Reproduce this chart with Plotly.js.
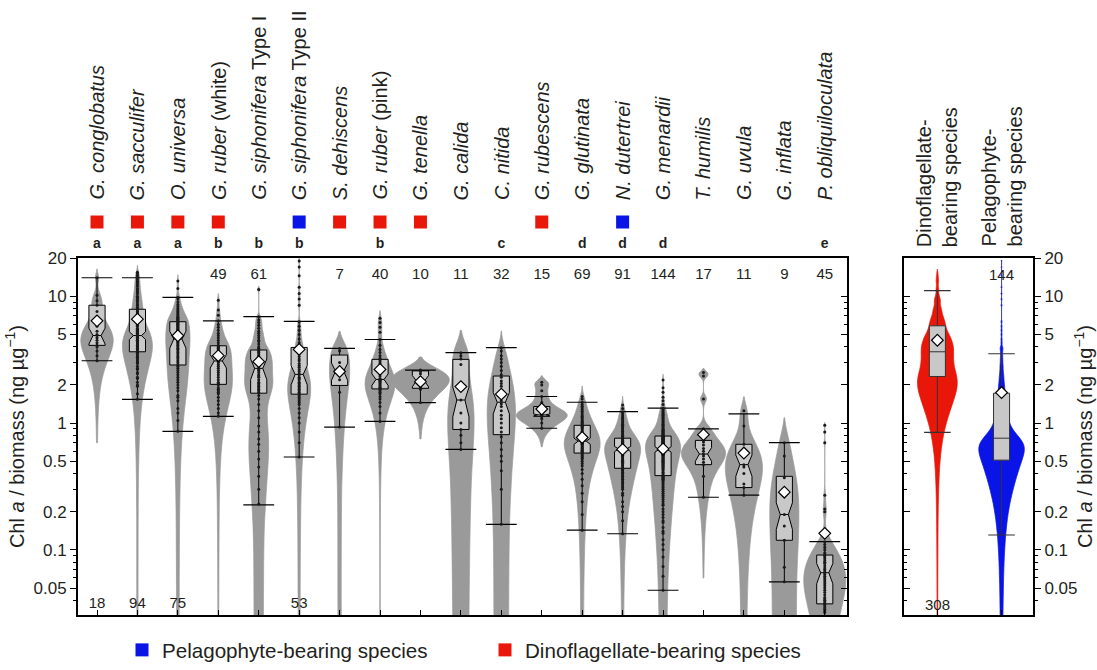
<!DOCTYPE html>
<html><head><meta charset="utf-8">
<script src="https://cdn.plot.ly/plotly-3.0.1.min.js"></script>
<style>html,body{margin:0;padding:0;background:#fff}#chart{width:1097px;height:670px}</style>
</head><body><div id="chart"></div>
<script>
// ---------------- DATA ----------------
const categories = ['<i>G. conglobatus</i>','<i>G. sacculifer</i>','<i>O. universa</i>','<i>G. ruber</i> (white)',
  '<i>G. siphonifera</i> Type I','<i>G. siphonifera</i> Type II','<i>S. dehiscens</i>','<i>G. ruber</i> (pink)',
  '<i>G. tenella</i>','<i>G. calida</i>','<i>C. nitida</i>','<i>G. rubescens</i>','<i>G. glutinata</i>',
  '<i>N. dutertrei</i>','<i>G. menardii</i>','<i>T. humilis</i>','<i>G. uvula</i>','<i>G. inflata</i>','<i>P. obliquiloculata</i>'];
const symbiont = ['D','D','D','D','','P','D','D','D','','','D','','P','','','','',''];
const groupLetters = ['a','a','a','b','b','b','','b','','','c','','d','d','d','','','','e'];
const nCounts = [18,94,75,49,61,53,7,40,10,11,32,15,69,91,144,17,11,9,45];

const q1 =           [4.1, 3.65, 2.87, 2.02, 1.72, 1.69, 1.98, 1.86, 1.88, 0.89, 0.81, 1.13, 0.58, 0.44, 0.385, 0.47, 0.31, 0.119, 0.0375];
const median =       [4.9, 4.9, 4.6, 3.09, 2.7, 2.42, 2.57, 2.21, 2.15, 1.52, 1.46, 1.16, 0.72, 0.625, 0.62, 0.57, 0.47, 0.19, 0.066];
const q3 =           [8.5, 7.9, 6.3, 4.07, 3.77, 3.95, 3.44, 3.18, 2.58, 3.18, 2.35, 1.35, 0.96, 0.76, 0.79, 0.73, 0.68, 0.38, 0.091];
const lowerWhisker = [3.1, 1.54, 0.86, 1.13, 0.226, 0.54, 0.93, 1.03, 1.45, 0.62, 0.159, 0.91, 0.143, 0.134, 0.048, 0.26, 0.27, 0.056, 0.03];
const upperWhisker = [14.0, 14.0, 9.8, 6.4, 6.9, 6.35, 3.88, 4.56, 2.62, 3.59, 3.93, 1.62, 1.46, 1.23, 1.31, 0.9, 1.18, 0.7, 0.116];
const means =        [6.4, 6.6, 4.88, 3.4, 3.05, 3.81, 2.55, 2.65, 2.12, 1.94, 1.69, 1.29, 0.77, 0.62, 0.625, 0.81, 0.58, 0.285, 0.135];
const notchHalf =    [0.7, 0.35, 0.7, 0.37, 0.5, 0.42, 0.4, 0.23, 0.22, 0.4, 0.28, 0.02, 0.04, 0.03, 0.03, 0.07, 0.09, 0.045, 0.012];

const conglobatus = [3.1,3.4,3.7,4.0,4.1,4.3,4.5,4.7,4.9,5.0,5.3,5.8,6.6,7.6,8.5,9.2,10.2,14.0];
const sacculifer = [1.54,1.7,1.95,2.0,2.1,2.25,2.3,2.45,2.5,2.65,2.7,2.8,2.95,3.0,3.05,3.15,3.2,3.3,3.3,3.4,3.45,3.55,3.6,
  3.65,3.7,3.7,3.8,3.85,3.9,4.0,4.0,4.05,4.1,4.2,4.2,4.3,4.35,4.4,4.5,4.5,4.6,4.65,4.7,4.75,4.8,4.85,4.9,
  4.9,5.0,5.1,5.2,5.3,5.4,5.5,5.6,5.8,5.9,6.0,6.2,6.3,6.5,6.6,6.8,7.0,7.1,7.3,7.5,7.6,7.8,7.9,8.0,
  8.2,8.5,8.7,9.0,9.2,9.3,9.6,9.8,10.0,10.4,10.7,11.0,11.2,11.5,12.0,12.4,12.8,13.1,13.5,14.0,14.5,15.0,15.5];
const universa = [0.86,1.05,1.2,1.3,1.5,1.6,1.65,1.8,1.9,2.0,2.1,2.2,2.3,2.4,2.5,2.6,2.7,2.8,
  2.9,3.0,3.1,3.2,3.3,3.4,3.5,3.6,3.7,3.8,3.9,4.0,4.1,4.2,4.3,4.35,4.45,4.5,4.55,
  4.6,4.7,4.8,4.9,5.0,5.1,5.2,5.3,5.4,5.5,5.6,5.7,5.8,5.9,6.0,6.05,6.1,6.2,6.3,
  6.4,6.5,6.6,6.7,6.8,6.9,7.0,7.2,7.4,7.6,7.8,8.0,8.3,8.6,9.0,9.5,9.8,11.5,13.2];
const ruberWhite = [1.13,1.2,1.3,1.4,1.5,1.6,1.7,1.75,1.8,1.85,1.9,2.0,2.05,2.1,2.2,2.3,2.4,2.5,2.6,2.7,2.8,2.9,3.0,3.05,
  3.1,3.2,3.3,3.4,3.5,3.6,3.7,3.8,3.9,3.95,4.0,4.05,4.1,4.3,4.5,4.7,4.9,5.1,5.4,5.7,6.0,6.4,7.1,7.8,9.3];
const siphoniferaI = [0.23,0.3,0.38,0.45,0.52,0.6,0.68,0.75,0.85,0.95,1.1,1.25,1.4,1.55,1.65,1.75,1.8,1.85,1.9,1.95,2.0,
  2.05,2.1,2.2,2.3,2.35,2.4,2.5,2.6,2.65,2.7,2.8,2.85,2.9,3.0,3.05,3.1,3.2,3.3,3.35,3.4,3.5,3.6,3.65,3.75,
  3.8,3.9,4.0,4.2,4.4,4.5,4.7,4.9,5.1,5.3,5.6,5.9,6.2,6.5,6.9,11.3];
const siphoniferaII = [0.54,0.7,0.85,1.0,1.1,1.2,1.3,1.4,1.45,1.5,1.55,1.6,1.65,1.7,1.75,1.8,1.85,1.9,1.95,2.0,2.05,2.1,
  2.2,2.25,2.3,2.4,2.45,2.55,2.65,2.75,2.85,2.95,3.1,3.2,3.35,3.5,3.65,3.8,3.9,4.0,4.3,4.6,5.0,5.4,5.8,6.3,
  8.5,9.5,10.5,11.8,14.5,17.0,19.0];
const dehiscens = [0.93,1.75,2.2,2.55,3.0,3.7,3.88];
const ruberPink = [1.03,1.2,1.35,1.45,1.55,1.62,1.7,1.75,1.8,1.84,1.88,1.92,1.96,2.0,2.04,2.08,2.12,2.15,2.18,2.2,
  2.25,2.35,2.45,2.55,2.65,2.75,2.85,2.95,3.05,3.15,3.25,3.4,3.6,3.8,4.1,4.56,5.2,5.7,6.2,6.7];
const tenella = [1.45,1.85,1.9,2.0,2.1,2.2,2.3,2.45,2.55,2.62];
const calida = [0.62,0.7,0.8,0.89,1.0,1.2,1.52,2.9,3.2,3.4,3.59];
const nitida = [0.159,0.3,0.42,0.5,0.55,0.62,0.7,0.78,0.85,0.92,1.0,1.08,1.15,1.25,1.35,1.42,1.5,1.6,1.7,1.8,1.95,2.05,
  2.15,2.3,2.4,2.6,2.8,3.0,3.2,3.4,3.7,3.93];
const rubescens = [0.91,1.0,1.08,1.12,1.14,1.15,1.16,1.2,1.25,1.35,1.45,1.62,1.8,2.0,2.1];
const glutinata = [0.143,0.19,0.24,0.28,0.32,0.36,0.4,0.43,0.46,0.48,0.5,0.52,0.53,0.54,0.55,0.56,0.57,
  0.585,0.59,0.6,0.61,0.62,0.63,0.64,0.65,0.66,0.67,0.68,0.69,0.695,0.7,0.705,0.71,0.715,
  0.72,0.73,0.74,0.75,0.76,0.77,0.78,0.8,0.82,0.84,0.86,0.88,0.9,0.92,0.93,0.94,0.955,
  0.97,0.99,1.01,1.03,1.05,1.08,1.1,1.13,1.16,1.2,1.24,1.28,1.32,1.36,1.4,1.46,1.55,1.62];
const dutertrei = [0.134,0.17,0.2,0.22,0.24,0.27,0.28,0.3,0.31,0.32,0.33,0.34,0.35,0.36,0.37,0.38,0.39,0.4,0.41,0.42,0.43,0.435,
  0.44,0.45,0.46,0.47,0.48,0.49,0.5,0.51,0.52,0.53,0.54,0.55,0.555,0.56,0.57,0.575,0.58,0.59,0.595,0.6,0.61,0.615,0.62,
  0.625,0.63,0.635,0.64,0.645,0.65,0.655,0.66,0.665,0.67,0.675,0.68,0.69,0.695,0.7,0.705,0.71,0.72,0.725,0.73,0.74,0.75,0.755,
  0.77,0.78,0.79,0.8,0.82,0.84,0.86,0.88,0.9,0.92,0.94,0.96,0.98,1.0,1.03,1.06,1.09,1.12,1.16,1.2,1.23,1.3,1.39];
const menardii = [0.048,0.062,0.074,0.088,0.1,0.11,0.12,0.135,0.14,0.15,0.165,0.17,0.18,0.19,0.2,0.21,0.225,0.23,0.24,0.25,
  0.26,0.27,0.28,0.29,0.3,0.31,0.32,0.33,0.34,0.35,0.355,0.36,0.365,0.37,0.375,0.38,
  0.39,0.4,0.41,0.42,0.43,0.44,0.45,0.455,0.46,0.47,0.475,0.48,0.49,0.495,0.5,0.51,0.515,0.52,0.53,0.535,0.54,0.55,
  0.555,0.56,0.565,0.57,0.575,0.58,0.585,0.59,0.595,0.6,0.605,0.61,0.613,0.617,
  0.62,0.625,0.63,0.635,0.64,0.645,0.65,0.655,0.66,0.665,0.67,0.675,0.68,0.685,0.69,0.695,0.7,0.705,0.71,0.715,
  0.72,0.725,0.73,0.735,0.74,0.745,0.75,0.755,0.76,0.765,0.77,0.775,0.78,0.783,0.786,0.789,
  0.8,0.81,0.82,0.83,0.84,0.85,0.86,0.87,0.88,0.89,0.9,0.92,0.94,0.96,0.98,1.0,1.02,1.04,1.06,1.08,1.1,1.12,
  1.14,1.16,1.18,1.2,1.22,1.25,1.28,1.31,1.4,1.5,1.6,1.75,1.9,2.19];
const humilis = [0.26,0.38,0.47,0.49,0.52,0.55,0.57,0.6,0.63,0.67,0.71,0.75,0.85,0.9,1.55,2.35,2.5];
const uvula = [0.27,0.31,0.33,0.4,0.45,0.47,0.55,0.62,0.68,0.95,1.25];
const inflata = [0.056,0.073,0.119,0.154,0.19,0.3,0.37,0.55,0.7];
const obliquiloculata = [0.032,0.033,0.034,0.035,0.036,0.037,0.038,0.039,0.04,0.041,0.042,0.044,0.046,0.048,0.05,0.052,
  0.054,0.056,0.058,0.06,0.062,0.064,0.066,0.068,0.07,0.072,0.075,0.078,0.08,0.082,0.085,0.088,0.09,0.092,0.095,
  0.1,0.105,0.11,0.116,0.2,0.21,0.27,0.7,0.85,0.96];

const speciesData = [conglobatus, sacculifer, universa, ruberWhite, siphoniferaI, siphoniferaII, dehiscens, ruberPink,
  tenella, calida, nitida, rubescens, glutinata, dutertrei, menardii, humilis, uvula, inflata, obliquiloculata];

// grouped panel
const groupNames = ['Dinoflagellate-<br>bearing species', 'Pelagophyte-<br>bearing species'];
const groupKeys = ['D', 'P'];
const groupN = [308, 144];
const groupQ1 = [2.33, 0.51];
const groupMedian = [3.65, 0.76];
const groupQ3 = [5.85, 1.72];
const groupLower = [0.845, 0.131];
const groupUpper = [11.1, 3.52];
const groupMean = [4.5, 1.74];

const majorTicks = [0.05, 0.1, 0.2, 0.5, 1, 2, 5, 10, 20];
const minorTicks = [0.03,0.04,0.06,0.07,0.08,0.09,0.3,0.4,0.6,0.7,0.8,0.9,3,4,6,7,8,9];

// ---------------- STYLE ----------------
const GREY = '#9a9a9a', BOXFILL = '#c8c8c8', RED = '#e8170a', BLUE = '#0a14e6', INK = '#231f20';
const violinWidth = [0.80,0.74,0.60,0.70,0.70,0.57,0.50,0.74,1.43,0.65,0.70,1.26,0.89,0.89,0.87,1.09,0.92,0.72,1.04];
const bandwidth =   [1.2,1.0,0.8,0.6,0.35,0.5,0.7,0.5,0.35,0.9,0.7,0.13,0.17,0.12,0.12,0.1,0.18,0.2,0.025];
const groupViolinWidth = [0.62, 0.71];
const groupBandwidth = [0.45, 0.12];
const groupColors = [RED, BLUE];
const bottomCountIdx = [0, 1, 2, 5];

const PX = v => v / 1097, PY = v => 1 - v / 670;
const yRange = [Math.log10(0.0305), Math.log10(20.1)];
const idx = categories.map((_, i) => i);

const traces = [];
// violins
speciesData.forEach((d, i) => {
  traces.push({type:'violin', x0:i, y:d, xaxis:'x', yaxis:'y', width:violinWidth[i], bandwidth:bandwidth[i],
    fillcolor:GREY, line:{color:GREY, width:0.7}, points:false, box:{visible:false}, meanline:{visible:false},
    scalemode:'width', spanmode:'soft', hoverinfo:'skip', showlegend:false});
});
// boxes
traces.push({type:'box', x:idx, q1:q1, median:median, q3:q3, lowerfence:lowerWhisker, upperfence:upperWhisker,
  notchspan:notchHalf, notched:true, notchwidth:0.25, width:0.4, fillcolor:BOXFILL, line:{color:'#000', width:1},
  whiskerwidth:0, boxpoints:false, hoverinfo:'skip', showlegend:false, xaxis:'x', yaxis:'y'});
// whisker caps
traces.push({type:'scatter', mode:'markers', x:idx.concat(idx), y:lowerWhisker.concat(upperWhisker),
  marker:{symbol:'line-ew', size:22, line:{width:1.2, color:'#000'}}, hoverinfo:'skip', showlegend:false});
// points
const px = [], py = [];
speciesData.forEach((d, i) => d.forEach(v => { px.push(i); py.push(v); }));
traces.push({type:'scatter', mode:'markers', x:px, y:py, marker:{size:3, color:'#1a1a1a'}, hoverinfo:'skip', showlegend:false});
// means
traces.push({type:'scatter', mode:'markers', x:idx, y:means,
  marker:{symbol:'diamond', size:9, color:'#fff', line:{width:1.2, color:'#000'}}, hoverinfo:'skip', showlegend:false});

// grouped panel
const groupData = groupKeys.map(k => [].concat(...speciesData.filter((_, i) => symbiont[i] === k)));
groupData.forEach((d, g) => {
  traces.push({type:'violin', x0:g, y:d, xaxis:'x2', yaxis:'y2', width:groupViolinWidth[g], bandwidth:groupBandwidth[g],
    fillcolor:groupColors[g], line:{color:groupColors[g], width:0.7}, points:false, box:{visible:false},
    meanline:{visible:false}, scalemode:'width', spanmode:'soft', hoverinfo:'skip', showlegend:false});
});
traces.push({type:'box', x:[0,1], q1:groupQ1, median:groupMedian, q3:groupQ3, lowerfence:groupLower, upperfence:groupUpper,
  width:0.25, fillcolor:BOXFILL, line:{color:'#333', width:1}, whiskerwidth:0, boxpoints:false, hoverinfo:'skip',
  showlegend:false, xaxis:'x2', yaxis:'y2'});
traces.push({type:'scatter', mode:'markers', x:[0,1,0,1], y:groupLower.concat(groupUpper), xaxis:'x2', yaxis:'y2',
  marker:{symbol:'line-ew', size:19, line:{width:1.2, color:'#333'}}, hoverinfo:'skip', showlegend:false});
traces.push({type:'scatter', mode:'markers', x:[0,1], y:groupMean, xaxis:'x2', yaxis:'y2',
  marker:{symbol:'diamond', size:9, color:'#fff', line:{width:1.2, color:'#000'}}, hoverinfo:'skip', showlegend:false});

// header: symbiont squares, letters, counts
const sqIdx = idx.filter(i => symbiont[i]);
traces.push({type:'scatter', mode:'markers', x:sqIdx, y:sqIdx.map(() => PY(223)), xaxis:'x', yaxis:'y5', cliponaxis:false,
  marker:{symbol:'square', size:13, color:sqIdx.map(i => symbiont[i] === 'D' ? RED : BLUE)}, hoverinfo:'skip', showlegend:false});
const lIdx = idx.filter(i => groupLetters[i]);
traces.push({type:'scatter', mode:'text', x:lIdx, y:lIdx.map(() => PY(246)), text:lIdx.map(i => '<b>' + groupLetters[i] + '</b>'),
  xaxis:'x', yaxis:'y5', cliponaxis:false, textfont:{size:14, color:INK}, hoverinfo:'skip', showlegend:false});
traces.push({type:'scatter', mode:'text', x:idx, y:idx.map(i => bottomCountIdx.includes(i) ? PY(607) : PY(276)),
  text:nCounts.map(String), xaxis:'x', yaxis:'y5', cliponaxis:false, textfont:{size:15, color:INK}, hoverinfo:'skip', showlegend:false});
// dummy traces so the mirrored-tick axes are drawn
traces.push({type:'scatter', mode:'markers', x:[0], y:[1], xaxis:'x', yaxis:'y3', marker:{opacity:0}, hoverinfo:'skip', showlegend:false});
traces.push({type:'scatter', mode:'markers', x:[0], y:[1], xaxis:'x2', yaxis:'y4', marker:{opacity:0}, hoverinfo:'skip', showlegend:false});
// legend entries
traces.push({type:'scatter', mode:'markers', x:[null], y:[null], name:'Pelagophyte-bearing species', marker:{symbol:'square', size:13, color:BLUE}, showlegend:true});
traces.push({type:'scatter', mode:'markers', x:[null], y:[null], name:'Dinoflagellate-bearing species', marker:{symbol:'square', size:13, color:RED}, showlegend:true});

const annotations = categories.map((c, i) => ({xref:'x', yref:'paper', x:i, y:PY(203), text:c, textangle:-90,
  xanchor:'center', yanchor:'bottom', showarrow:false, font:{size:20, color:INK}}));
groupNames.forEach((g, k) => {
  annotations.push({xref:'x2', yref:'paper', x:k, y:PY(250), text:g, textangle:-90, align:'left',
    xanchor:'center', yanchor:'bottom', showarrow:false, font:{size:20, color:INK}});
});
annotations.push({xref:'x2', yref:'paper', x:0, y:PY(607), text:String(groupN[0]), showarrow:false,
  xanchor:'center', yanchor:'middle', font:{size:15, color:INK}});
annotations.push({xref:'x2', yref:'paper', x:1, y:PY(276), text:String(groupN[1]), showarrow:false,
  xanchor:'center', yanchor:'middle', font:{size:15, color:INK}});

const yTitle = 'Chl <i>a</i> / biomass (ng µg<sup>−1</sup>)';
const logAxis = (extra) => Object.assign({type:'log', range:yRange, tickmode:'array', tickvals:majorTicks,
  ticktext:majorTicks.map(String), tickfont:{size:17, color:INK}, ticklen:6, tickwidth:1, tickcolor:'#000',
  showgrid:false, zeroline:false, automargin:false, fixedrange:true}, extra);
const catAxis = (extra) => Object.assign({showline:true, linewidth:2, linecolor:'#000', mirror:true, ticks:'inside',
  ticklen:5, tickwidth:1, tickcolor:'#000', showticklabels:false, showgrid:false, zeroline:false, automargin:false,
  fixedrange:true}, extra);

const layout = {
  width:1097, height:670, margin:{l:0, r:0, t:0, b:0}, paper_bgcolor:'#fff', plot_bgcolor:'rgba(0,0,0,0)',
  font:{family:'"Liberation Sans", Arial, sans-serif', color:INK},
  violinmode:'overlay', boxmode:'overlay', hovermode:false, showlegend:true,
  legend:{orientation:'h', x:PX(122), y:PY(673), xanchor:'left', yanchor:'bottom', font:{size:20.6, color:INK},
    entrywidth:318, entrywidthmode:'pixels', bgcolor:'rgba(0,0,0,0)', itemclick:false},
  xaxis:catAxis({domain:[PX(78), PX(847)], range:[-0.47, 18.55], anchor:'y', tickmode:'array', tickvals:idx}),
  xaxis2:catAxis({domain:[PX(904), PX(1033)], range:[-0.52, 1.49], anchor:'y2', tickmode:'array', tickvals:[0,1]}),
  yaxis:logAxis({domain:[PY(618), PY(259)], anchor:'x', side:'left', showline:true, linewidth:2, linecolor:'#000',
    mirror:true, ticks:'outside', minor:{tickmode:'array', tickvals:minorTicks, ticks:'outside', ticklen:3, tickcolor:'#000'},
    title:{text:yTitle, font:{size:20, color:INK}, standoff:4}}),
  yaxis3:logAxis({overlaying:'y', anchor:'x', side:'right', showline:false, ticks:'inside', showticklabels:false,
    minor:{tickmode:'array', tickvals:minorTicks, ticks:'inside', ticklen:3, tickcolor:'#000'}}),
  yaxis2:logAxis({domain:[PY(618), PY(259)], anchor:'x2', side:'right', showline:true, linewidth:2, linecolor:'#000',
    mirror:true, ticks:'outside', minor:{tickmode:'array', tickvals:minorTicks, ticks:'outside', ticklen:3, tickcolor:'#000'},
    title:{text:yTitle, font:{size:20, color:INK}, standoff:2}}),
  yaxis4:logAxis({overlaying:'y2', anchor:'x2', side:'left', showline:false, ticks:'inside', showticklabels:false,
    minor:{tickmode:'array', tickvals:minorTicks, ticks:'inside', ticklen:3, tickcolor:'#000'}}),
  yaxis5:{domain:[0, 1], range:[0, 1], anchor:'x', visible:false, fixedrange:true},
  annotations:annotations
};

Plotly.newPlot('chart', traces, layout, {staticPlot:true, displayModeBar:false});
</script></body></html>
